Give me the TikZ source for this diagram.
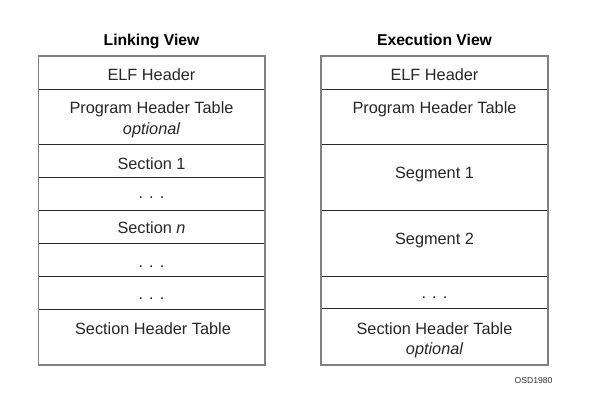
\documentclass[tikz,border=0pt]{standalone}
\usepackage{fontspec}
\setmainfont{Liberation Sans}
\begin{document}
\begin{tikzpicture}[x=1pt,y=-1pt,
  frame/.style={draw=black!50, line width=1.5pt},
  sep/.style={draw=black!85, line width=0.8pt},
  lbl/.style={font=\fontsize{16.3}{19}\selectfont, inner sep=0pt, anchor=base, text=black!85},
  ttl/.style={font=\fontsize{15.7}{19}\bfseries\selectfont, inner sep=0pt, anchor=base},
  tag/.style={font=\fontsize{8.6}{10}\selectfont, inner sep=0pt, anchor=base east, text=black!80}
]
\useasboundingbox (0,0) rectangle (613,411);
% titles
\node[ttl] (tl) at (151.5,46) {Linking View};
\node[ttl] (tr) at (434.5,46) {Execution View};
% left separators
\foreach \yy in {89.3,144,177.3,210.7,243.3,276.7,309.3}
  \draw[sep] (38.3,\yy) -- (265,\yy);
% right separators
\foreach \yy in {89.3,144.3,210.7,276,308.7}
  \draw[sep] (321,\yy) -- (548,\yy);
% frames
\draw[frame] (38.3,56) rectangle (265,365);
\draw[frame] (321,56) rectangle (548,365);
% left texts
\node[lbl] (l1) at (151.5,80.5) {ELF Header};
\node[lbl] (l2) at (151.5,114) {Program Header Table};
\node[lbl] (l2b) at (151.5,135) {\itshape optional};
\node[lbl] (l3) at (151.5,170) {Section 1};
\node[lbl] (l4) at (151.5,199) {. . .};
\node[lbl] (l5) at (151.5,233.5) {Section \textit{n}};
\node[lbl] (l6) at (151.5,268) {. . .};
\node[lbl] (l7) at (151.5,299.5) {. . .};
\node[lbl] (l8) at (153,335) {Section Header Table};
% right texts
\node[lbl] (r1) at (434.5,80.5) {ELF Header};
\node[lbl] (r2) at (434.5,114) {Program Header Table};
\node[lbl] (r3) at (434.5,179) {Segment 1};
\node[lbl] (r4) at (434.5,245) {Segment 2};
\node[lbl] (r5) at (434.5,299) {. . .};
\node[lbl] (r6) at (434.5,335) {Section Header Table};
\node[lbl] (r6b) at (434.5,354.5) {\itshape optional};
% tag
\node[tag] (osd) at (552.7,384) {OSD1980};
\end{tikzpicture}
\end{document}
